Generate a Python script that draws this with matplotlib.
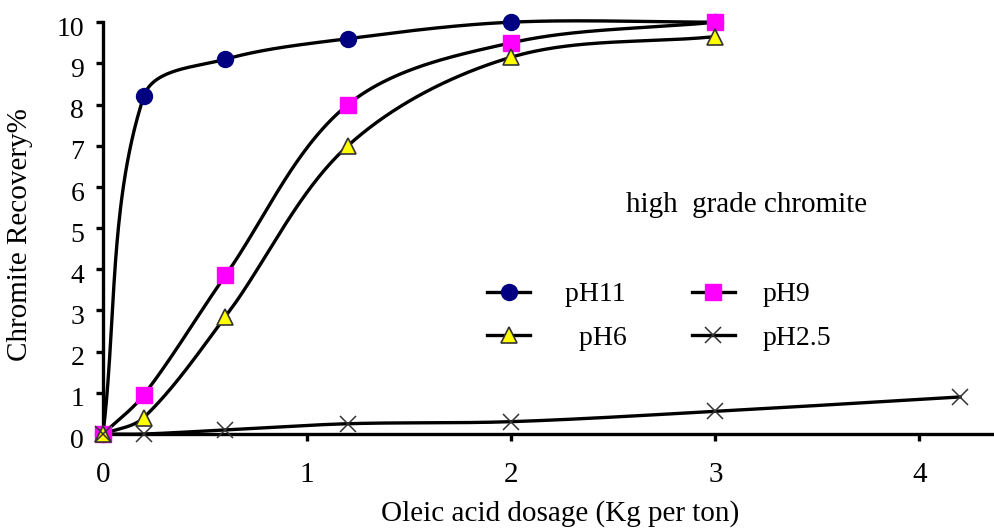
import numpy as np
import matplotlib
matplotlib.use("Agg")
import matplotlib.pyplot as plt
from matplotlib.lines import Line2D
from matplotlib.transforms import ScaledTranslation

plt.rcParams['font.family'] = ['Liberation Serif', 'DejaVu Serif']

# ---- data ----
x_ph11 = [0, 0.2, 0.6, 1.2, 2, 3]
y_ph11 = [0, 8.2, 9.1, 9.6, 10, 10]
x_ph9 = [0, 0.2, 0.6, 1.2, 2, 3]
y_ph9 = [0, 0.95, 3.85, 8.0, 9.5, 10]
x_ph6 = [0, 0.2, 0.6, 1.2, 2, 3]
y_ph6 = [0, 0.4, 2.85, 7.0, 9.15, 9.65]
x_ph25 = [0, 0.2, 0.6, 1.2, 2, 3, 4.2]
y_ph25 = [0, 0, 0.1, 0.25, 0.3, 0.55, 0.9]
labels = [" pH11", "pH9", "   pH6", "pH2.5"]
xticks = [0, 1, 2, 3, 4]
yticks = list(range(0, 11))

FS = 20

fig = plt.figure(figsize=(9.95, 5.28), dpi=100)
ax = fig.add_axes([0.1035, 0.178, 0.8965, 0.780])
ax.set_xlim(0, 4.37)
ax.set_ylim(0, 10)


def smooth(xs, ys, n=60, k=0.33):
    """Smoothed curve through the points, built in display space with
    handle lengths proportional to neighbouring segment lengths."""
    p = ax.transData.transform(np.column_stack([xs, ys]).astype(float))
    m = len(p)
    out = [p[0]]
    tan = []
    for i in range(m):
        a = p[i - 1] if i > 0 else p[i]
        b = p[i + 1] if i < m - 1 else p[i]
        d = b - a
        nrm = np.hypot(*d)
        tan.append(d / nrm if nrm > 0 else d)
    t = np.linspace(0, 1, n)[1:, None]
    for i in range(m - 1):
        p1, p2 = p[i], p[i + 1]
        L = np.hypot(*(p2 - p1))
        c1 = p1 + tan[i] * L * k
        c2 = p2 - tan[i + 1] * L * k
        seg = ((1 - t) ** 3) * p1 + 3 * ((1 - t) ** 2) * t * c1 + 3 * (1 - t) * t ** 2 * c2 + t ** 3 * p2
        out.extend(seg)
    out = ax.transData.inverted().transform(np.array(out))
    return out[:, 0], out[:, 1]


series = [
    (x_ph11, y_ph11, dict(marker='o', mfc='#000080', mec='#000080', ms=11.5)),
    (x_ph9, y_ph9, dict(marker='s', mfc='#ff00ff', mec='#ff00ff', ms=11)),
    (x_ph6, y_ph6, dict(marker='^', mfc='#ffff00', mec='#333333', ms=11, mew=1.2)),
    (x_ph25, y_ph25, dict(marker='x', mfc='none', mec='#333333', ms=12, mew=1.1)),
]

handles = []
for (xs, ys, mk), lab in zip(series, labels):
    sx, sy = smooth(xs, ys)
    ax.plot(sx, sy, color='black', lw=2.4, zorder=2, clip_on=False, solid_capstyle='round')
    ax.plot(xs, ys, linestyle='none', zorder=3, clip_on=False, **mk)
    handles.append(Line2D([0], [0], color='black', lw=2.4, **mk))

ax.set_xticks(xticks)
ax.set_yticks(yticks)
ax.spines['top'].set_visible(False)
ax.spines['right'].set_visible(False)
for s in ['left', 'bottom']:
    ax.spines[s].set_linewidth(2.4)
ax.tick_params(axis='both', direction='out', length=5, width=2.4)
ax.tick_params(axis='y', labelsize=20, pad=8.5)
ax.tick_params(axis='x', labelsize=21, pad=15)
shift = ScaledTranslation(0, -3 / 72, fig.dpi_scale_trans)
for lbl in ax.get_yticklabels():
    lbl.set_transform(lbl.get_transform() + shift)

ax.set_ylabel("Chromite Recovery%", fontsize=21)
ax.yaxis.label.set_va('center')
ax.yaxis.set_label_coords(-0.093, 0.485)
ax.set_xlabel("Oleic acid dosage (Kg per ton)", fontsize=21)
ax.xaxis.label.set_va('center')
ax.xaxis.set_label_coords(0.512, -0.194)

ax.text(2.56, 5.56, "high  grade chromite", fontsize=21, va='center', ha='left')

order = [0, 2, 1, 3]
leg = ax.legend([handles[i] for i in order], [labels[i] for i in order], ncol=2,
                frameon=False, fontsize=FS, handlelength=1.55, handletextpad=1.0,
                columnspacing=2.35, labelspacing=0.64, borderpad=0, borderaxespad=0,
                loc='upper left', bbox_to_anchor=(0.4305, 0.369))

fig.savefig("out.png", dpi=100)
